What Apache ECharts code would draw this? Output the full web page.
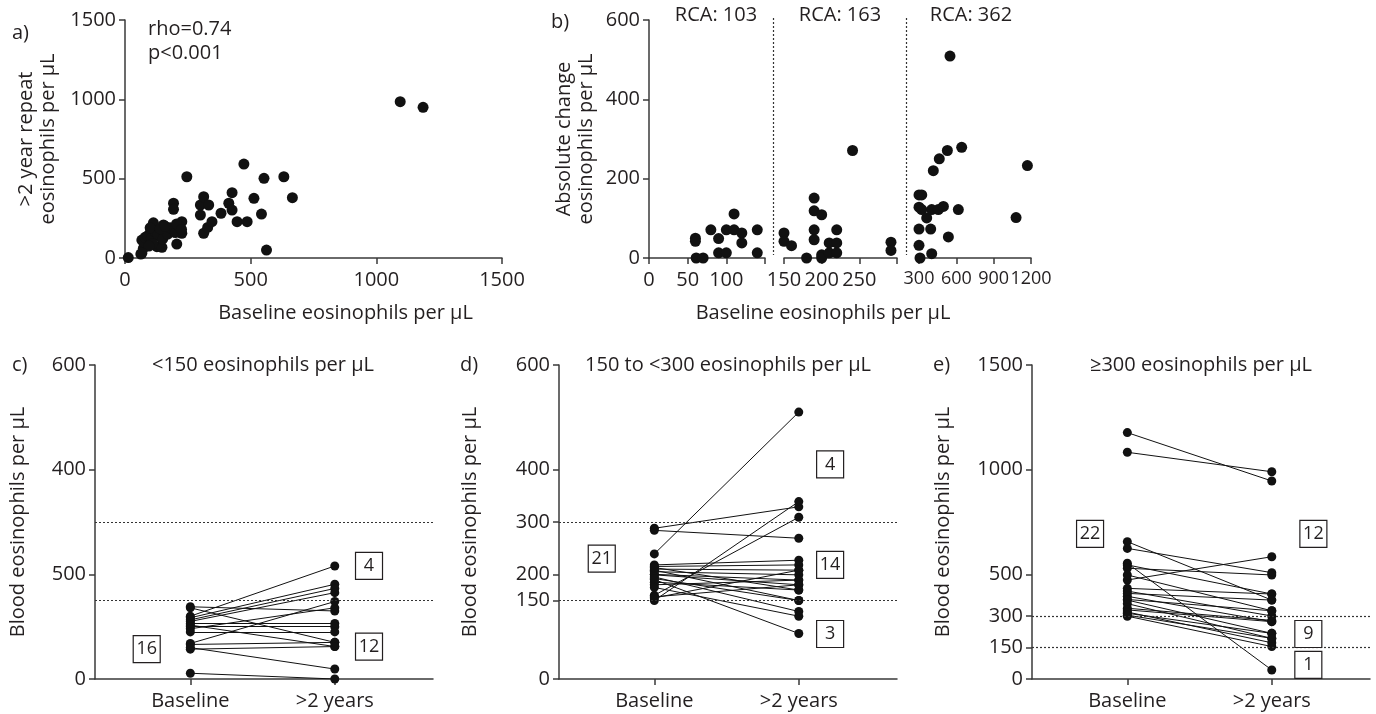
<!DOCTYPE html>
<html>
<head>
<meta charset="utf-8">
<script src="https://cdn.jsdelivr.net/npm/echarts@6/dist/echarts.min.js"></script>
<style>
html,body{margin:0;padding:0;background:#fff;}
#chart{width:1376px;height:714px;}
</style>
</head>
<body>
<div id="chart"></div>
<script>
// ---------- DATA ----------
// Panel a: baseline vs >2 year repeat
const aBaseline = [13,63,67,73,113,100,93,127,147,153,140,166,193,206,226,226,193,193,246,300,313,333,300,313,329,346,382,413,426,426,446,486,473,513,543,553,563,632,666,1095,1186,75,80,90,105,110,120,130,150,170,180,200,215,100,140,160,205,225,95,67];
const aRepeat   = [3,25,113,61,222,156,103,71,67,208,134,176,166,88,229,156,345,307,512,334,386,334,271,156,193,229,282,345,412,302,229,229,592,376,277,502,50,512,380,985,950,100,130,140,125,90,165,150,120,150,190,160,200,190,185,200,215,180,75,30];

// Panel b: baseline vs absolute change
const bBaseline = [60,60,61,70,80,90,90,100,100,110,110,120,120,140,140,
                   150,150,160,180,190,190,200,190,190,200,200,210,210,220,220,220,241,292,292,
                   300,322,300,322,362,402,455,496,616,300,394,300,308,402,536,415,463,528,643,1080,1171,549];
const bChange   = [50,42,0,0,71,49,13,13,71,111,71,63,38,71,13,
                   63,42,31,0,151,119,109,71,46,8,0,38,13,38,13,71,271,40,19,
                   159,159,128,122,101,122,122,130,122,73,73,32,0,11,53,220,250,271,279,102,233,509];
const bRCA = ['RCA: 103','RCA: 163','RCA: 362'];

// Panel c: <150 at baseline
const cBaseline = [138,136,120,117,113,110,106,103,100,96,90,68,66,57,60,11];
const cFollow   = [130,70,216,181,173,165,106,62,100,136,90,148,70,62,19,0];
// Panel d: 150 to <300 at baseline
const dBaseline = [239,288,284,150,160,218,215,210,208,205,200,199,195,190,185,180,175,157,155,213,192];
const dFollow   = [510,329,269,339,309,227,218,208,150,199,189,180,129,87,170,189,120,180,208,170,150];
// Panel e: >=300 at baseline
const eBaseline = [1177,1083,656,624,553,545,473,529,497,433,420,409,395,380,377,360,338,330,320,314,305,300];
const eFollow   = [946,990,377,508,43,406,584,497,326,406,301,377,274,326,218,194,280,274,173,218,194,155];

const timeLabels = ['Baseline','>2 years'];
const thresholds = [150,300];
const cTicks = [0,200,400,600];
const cTickText = {0:'0',200:'500',400:'400',600:'600'};
const dTicks = [0,150,200,300,400,600];
const eTicks = [0,150,300,500,1000,1500];
const cBoxes = [['16',0.698,57],['4',2.237,216],['12',2.237,62]];
const dBoxes = [['21',0.636,230],['4',2.217,410],['14',2.217,218],['3',2.217,86]];
const eBoxes = [['22',0.742,693],['12',2.288,693],['9',2.253,215],['1',2.253,67]];

// ---------- STYLE ----------
const FONT = 'Open Sans';
const FS = 20;
const TXT = '#231f20';
const AX = '#3a3a3a';
const plain = v => String(v);

function lab(o){
  return Object.assign({color:TXT,fontFamily:FONT,fontSize:FS,margin:9,formatter:plain,interval:0,
    showMinLabel:true,showMaxLabel:true,hideOverlap:false},o||{});
}
function tick(o){
  return Object.assign({show:true,inside:false,length:6,lineStyle:{color:AX,width:1.5}},o||{});
}
function baseAxis(o){
  return Object.assign({
    type:'value',
    splitLine:{show:false},
    axisLine:{show:true,onZero:false,lineStyle:{color:AX,width:1.5}},
    axisTick:tick(),
    axisLabel:lab(),
    nameTextStyle:{color:TXT,fontFamily:FONT,fontSize:FS,lineHeight:22}
  },o);
}
function catX(gi){
  return baseAxis({gridIndex:gi,min:0.34,max:2.68,
    axisTick:tick({customValues:[1,2]}),
    axisLabel:lab({margin:12,customValues:[1,2],formatter:v=>timeLabels[Math.round(v)-1]})});
}
function pairSeries(gi, base, follow, boxes){
  const pts = base.map(v=>[1,v]).concat(follow.map(v=>[2,v]));
  return [
    {type:'lines',coordinateSystem:'cartesian2d',xAxisIndex:gi,yAxisIndex:gi,polyline:false,silent:true,
     lineStyle:{color:'#111',width:1,opacity:1},z:2,
     data:base.map((b,i)=>({coords:[[1,b],[2,follow[i]]]}))},
    {type:'scatter',xAxisIndex:gi,yAxisIndex:gi,symbolSize:9,itemStyle:{color:'#111',opacity:1},z:3,data:pts,
     markLine:{silent:true,symbol:['none','none'],label:{show:false},
       lineStyle:{type:[2,2],color:'#333',width:1.2},
       data:thresholds.map(t=>({yAxis:t}))},
     markPoint:{symbol:'rect',symbolSize:[27,27],
       itemStyle:{color:'#fff',borderColor:TXT,borderWidth:1.2},
       label:{show:true,position:'inside',color:TXT,fontFamily:FONT,fontSize:18,formatter:'{b}'},
       data:boxes.map(b=>({name:b[0],coord:[b[1],b[2]]}))}}
  ];
}

const bSections = [[0,150],[150,300],[300,Infinity]];
const bSeries = bSections.map((r,k)=>({
  type:'scatter',xAxisIndex:1+k,yAxisIndex:1+k,symbolSize:11,itemStyle:{color:'#111',opacity:1},
  data:bBaseline.map((x,i)=>[x,bChange[i]]).filter(p=>p[0]>=r[0]&&p[0]<r[1])
}));

function txt(x,y,t,align){
  return {type:'text',x:x,y:y,silent:true,
    style:{text:t,fill:TXT,font:FS+'px "'+FONT+'"',textAlign:align||'left',textVerticalAlign:'middle'}};
}

const option = {
  animation:false,
  backgroundColor:'#fff',
  grid:[
    {left:125,top:20,width:377,height:238},
    {left:649,top:20,width:116,height:238},
    {left:784,top:20,width:113,height:238},
    {left:919,top:20,width:112,height:238},
    {left:95,top:365,width:338,height:314},
    {left:559,top:365,width:338,height:314},
    {left:1032,top:365,width:338,height:314}
  ],
  xAxis:[
    baseAxis({gridIndex:0,min:0,max:1500,interval:500,axisLabel:lab({margin:12}),
      name:'Baseline eosinophils per μL',nameLocation:'middle',nameGap:45,
      nameTextStyle:{color:TXT,fontFamily:FONT,fontSize:FS,padding:[0,0,0,64]}}),
    baseAxis({gridIndex:1,min:0,max:150,
      axisTick:tick({customValues:[0,50,100,150]}),
      axisLabel:lab({margin:12,customValues:[0,50,100]})}),
    baseAxis({gridIndex:2,min:150,max:300,
      axisTick:tick({customValues:[150,200,250,300]}),
      axisLabel:lab({margin:12,customValues:[150,200,250]})}),
    baseAxis({gridIndex:3,min:300,max:1200,
      axisTick:tick({customValues:[300,600,900,1200]}),
      axisLabel:lab({margin:12,fontSize:18,customValues:[300,600,900,1200]})}),
    catX(4),catX(5),catX(6)
  ],
  yAxis:[
    baseAxis({gridIndex:0,min:0,max:1500,interval:500,name:'>2 year repeat\neosinophils per μL',nameLocation:'middle',nameGap:66}),
    baseAxis({gridIndex:1,min:0,max:600,interval:200,name:'Absolute change\neosinophils per μL',nameLocation:'middle',nameGap:52}),
    baseAxis({gridIndex:2,min:0,max:600,show:false}),
    baseAxis({gridIndex:3,min:0,max:600,show:false}),
    baseAxis({gridIndex:4,min:0,max:600,name:'Blood eosinophils per μL',nameLocation:'middle',nameGap:66,
      axisTick:tick({customValues:cTicks}),
      axisLabel:lab({customValues:cTicks,formatter:v=>cTickText[v]})}),
    baseAxis({gridIndex:5,min:0,max:600,name:'Blood eosinophils per μL',nameLocation:'middle',nameGap:78,
      axisTick:tick({customValues:dTicks}),
      axisLabel:lab({customValues:dTicks})}),
    baseAxis({gridIndex:6,min:0,max:1500,name:'Blood eosinophils per μL',nameLocation:'middle',nameGap:78,
      axisTick:tick({customValues:eTicks}),
      axisLabel:lab({customValues:eTicks})})
  ],
  graphic:[
    txt(12,33,'a)'),
    txt(148,29,'rho=0.74'),
    txt(148,53,'p<0.001'),
    txt(551,22,'b)'),
    txt(716,15,bRCA[0],'center'),
    txt(840,15,bRCA[1],'center'),
    txt(971,15,bRCA[2],'center'),
    txt(823,313,'Baseline eosinophils per μL','center'),
    {type:'line',silent:true,shape:{x1:773.5,y1:18,x2:773.5,y2:255},style:{stroke:'#333',lineWidth:1.2,lineDash:[2,2]}},
    {type:'line',silent:true,shape:{x1:906.5,y1:18,x2:906.5,y2:255},style:{stroke:'#333',lineWidth:1.2,lineDash:[2,2]}},
    txt(12,365,'c)'),
    txt(460,365,'d)'),
    txt(933,365,'e)'),
    txt(263,365,'<150 eosinophils per μL','center'),
    txt(728,365,'150 to <300 eosinophils per μL','center'),
    txt(1201,365,'≥300 eosinophils per μL','center')
  ],
  series:[
    {type:'scatter',xAxisIndex:0,yAxisIndex:0,symbolSize:11,itemStyle:{color:'#111',opacity:1},
     data:aBaseline.map((x,i)=>[x,aRepeat[i]])},
    ...bSeries,
    ...pairSeries(4,cBaseline,cFollow,cBoxes),
    ...pairSeries(5,dBaseline,dFollow,dBoxes),
    ...pairSeries(6,eBaseline,eFollow,eBoxes)
  ]
};
const chart = echarts.init(document.getElementById('chart'),null,{renderer:'canvas'});
chart.setOption(option);
</script>
</body>
</html>
